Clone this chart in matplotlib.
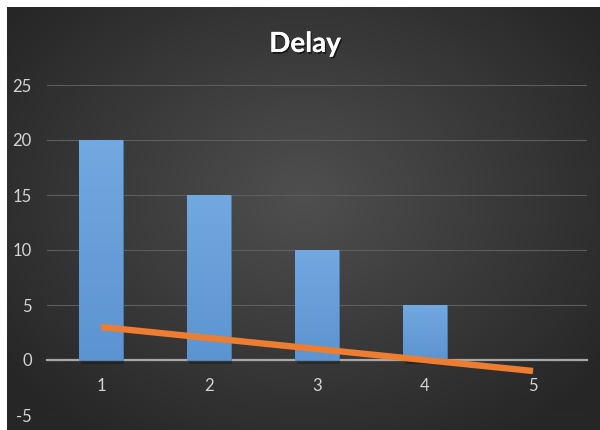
import numpy as np
import matplotlib
matplotlib.use('Agg')
import matplotlib.pyplot as plt
import matplotlib.patheffects as pe

# chart data
categories = [1, 2, 3, 4, 5]
bar_values = [20, 15, 10, 5, 0]
line_values = [3, 2, 1, 0, -1]
y_ticks = [-5, 0, 5, 10, 15, 20, 25]

plt.rcParams['axes.unicode_minus'] = False
fonts = ['Lato', 'DejaVu Sans']
label_color = '#d4d4d4'

fig = plt.figure(figsize=(6, 4.3), dpi=100, facecolor='white')

# dark radial background panel
bg = fig.add_axes([7 / 600, 0, 593 / 600, 423 / 430], zorder=0)
gx, gy = np.meshgrid(np.linspace(-1, 1, 400), np.linspace(-1, 1, 300))
r = np.sqrt((gx / 1.1) ** 2 + ((gy + 0.1) / 1.2) ** 2)
shade = np.clip(0.31 - 0.14 * r, 0.15, 0.31)
bg.imshow(np.dstack([shade, shade, shade]), aspect='auto', extent=[0, 1, 0, 1],
          interpolation='bilinear')
bg.axis('off')

ax = fig.add_axes([47 / 600, 15 / 430, 540 / 600, 330 / 430], zorder=1)
ax.set_facecolor('none')

x = np.arange(len(categories))
bars = ax.bar(x, bar_values, width=0.4, color='#5b9bd5', edgecolor='#4a80b8',
              linewidth=0.6, zorder=3)

# top-to-bottom shading inside each bar
grad = np.linspace(0, 1, 100).reshape(-1, 1)
top = np.array([0.45, 0.66, 0.88])
bottom = np.array([0.36, 0.58, 0.82])
img = top + (bottom - top) * grad[..., None]
for b in bars:
    if b.get_height() <= 0:
        b.set_linewidth(0)
        continue
    x0, w, h = b.get_x(), b.get_width(), b.get_height()
    # soft shadow
    ax.bar(x0 + w / 2 + 0.012, h, width=w, bottom=-0.35, color='black', alpha=0.25,
           linewidth=0, zorder=2)
    im = ax.imshow(img, extent=[x0, x0 + w, 0, h], aspect='auto', zorder=3.5,
                   interpolation='bilinear')
    im.set_clip_path(b)

ax.plot(x, line_values, color='#ed7d31', linewidth=4.6, solid_capstyle='butt', zorder=5)

ax.set_xlim(-0.5, len(categories) - 0.5)
ax.set_ylim(-5, 25)
ax.set_yticks(y_ticks)
ax.set_xticks(x)
ax.set_xticklabels([str(c) for c in categories])
ax.yaxis.grid(True, color='#5e5e5e', linewidth=0.8)
ax.set_axisbelow(True)

for side in ['top', 'right', 'left']:
    ax.spines[side].set_visible(False)
ax.spines['bottom'].set_position(('data', 0))
ax.spines['bottom'].set_color('#a8a8a8')
ax.spines['bottom'].set_linewidth(1.6)
ax.spines['bottom'].set_zorder(2.5)

ax.tick_params(axis='both', length=0, colors=label_color, labelsize=12)
ax.tick_params(axis='x', pad=13)
ax.tick_params(axis='y', pad=11)
for lbl in ax.get_xticklabels() + ax.get_yticklabels():
    lbl.set_family(fonts)

title = fig.text(305 / 600, (430 - 52) / 430, 'Delay', ha='center', va='baseline',
                 fontsize=20, fontweight='bold', color='white', family=fonts)
title.set_path_effects([pe.withSimplePatchShadow(offset=(1, -1.2), shadow_rgbFace='black',
                                                 alpha=0.6), pe.Normal()])

fig.savefig('out.png', dpi=100, facecolor='white')
